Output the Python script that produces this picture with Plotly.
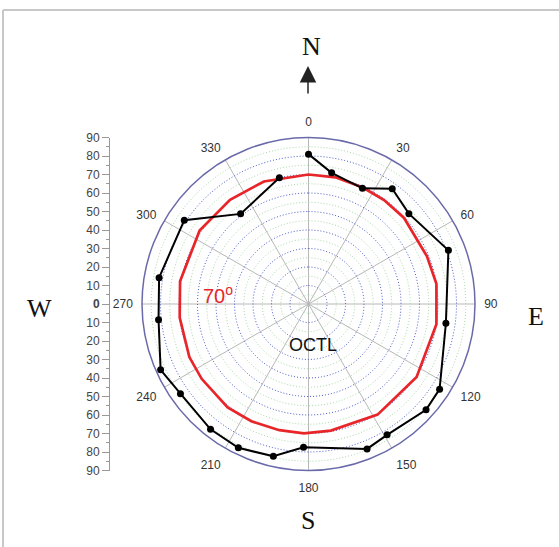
import plotly.graph_objects as go

# ---- data ----
azimuth = [0, 10, 25, 36, 48, 69, 98, 123, 132, 149, 158, 182, 193, 206, 218, 235, 246, 264, 280, 304, 323, 347]
zenith = [81, 72, 69, 77, 73, 81, 75, 84.5, 85.5, 82.5, 84.5, 77.5, 84.5, 86.5, 86, 84.5, 87.5, 81.5, 82, 81, 61, 70]

limit_theta = [0, 12, 25, 36, 48, 68, 81, 99, 124, 148, 170, 182, 193, 206, 218, 235, 246, 264, 280, 304, 323, 340, 360]
limit_r = [70, 70, 69.5, 69.5, 69.5, 69, 70, 70, 70.5, 70.5, 69.5, 70, 70, 70.5, 71, 70.5, 70.5, 70, 70.5, 71, 70.5, 70.5, 70]

blue_rings = [10, 20, 30, 40, 50, 60, 70, 80]
green_rings = [5, 15, 25, 35, 45, 55, 65, 75, 85]
ring_theta = list(range(0, 361, 2))

angle_ticks = [0, 30, 60, 90, 120, 150, 180, 210, 240, 270, 300, 330]
scale_vals = [-90, -80, -70, -60, -50, -40, -30, -20, -10, 0, 10, 20, 30, 40, 50, 60, 70, 80, 90]
scale_text = ["90", "80", "70", "60", "50", "40", "30", "20", "10", "<b>0</b>",
              "10", "20", "30", "40", "50", "60", "70", "80", "90"]

W, H = 559, 547
cx, cy, R = 308.5, 304.0, 166.5
SERIF = "Liberation Serif, Times New Roman, serif"

fig = go.Figure()

for r in green_rings:
    fig.add_trace(go.Scatterpolar(r=[r] * len(ring_theta), theta=ring_theta, mode="lines",
                                  line=dict(color="#a8d8a8", width=1, dash="1px,2px"),
                                  hoverinfo="skip", showlegend=False))
for r in blue_rings:
    fig.add_trace(go.Scatterpolar(r=[r] * len(ring_theta), theta=ring_theta, mode="lines",
                                  line=dict(color="#4a5cc8", width=1, dash="1px,2px"),
                                  hoverinfo="skip", showlegend=False))

fig.add_trace(go.Scatterpolar(r=limit_r, theta=limit_theta, mode="lines",
                              line=dict(color="#e8262a", width=2.7),
                              showlegend=False))
fig.add_trace(go.Scatterpolar(r=zenith, theta=azimuth, mode="lines+markers",
                              line=dict(color="black", width=2),
                              marker=dict(color="black", size=7),
                              showlegend=False))

# dummy trace so the cartesian scale axis is drawn
fig.add_trace(go.Scatter(x=[], y=[], xaxis="x", yaxis="y", showlegend=False, hoverinfo="skip"))


def label(text, px, py, size=26, color="#111", family=SERIF):
    return dict(text=text, x=px / W, y=1 - py / H, xref="paper", yref="paper",
                xanchor="center", yanchor="middle", showarrow=False,
                font=dict(family=family, size=size, color=color))


fig.update_layout(
    width=W, height=H, autosize=False,
    margin=dict(l=0, r=0, t=0, b=0, pad=0, autoexpand=False),
    paper_bgcolor="white", plot_bgcolor="white",
    font=dict(family="Liberation Sans, Arial, sans-serif", size=12, color="#333"),
    polar=dict(
        domain=dict(x=[(cx - R) / W, (cx + R) / W], y=[1 - (cy + R) / H, 1 - (cy - R) / H]),
        bgcolor="rgba(0,0,0,0)",
        radialaxis=dict(range=[0, 90], visible=False),
        angularaxis=dict(direction="clockwise", rotation=90,
                         tickmode="array", tickvals=angle_ticks,
                         ticktext=[str(a) for a in angle_ticks],
                         showgrid=True, gridcolor="#b8b8b8", gridwidth=1,
                         showline=True, linecolor="#6a6aaa", linewidth=1.5,
                         ticks="outside", ticklen=6, tickcolor="rgba(0,0,0,0)",
                         tickfont=dict(size=12, color="#333")),
    ),
    xaxis=dict(domain=[0.0, 0.01], visible=False, range=[0, 1]),
    yaxis=dict(domain=[1 - (cy + R) / H, 1 - (cy - R) / H], range=[-90, 90],
               anchor="free", position=109 / W, automargin=False,
               tickmode="array", tickvals=scale_vals, ticktext=scale_text,
               showline=True, linecolor="#999", linewidth=1,
               ticks="outside", ticklen=7, tickcolor="#999",
               minor=dict(dtick=5, ticks="outside", ticklen=3, tickcolor="#999"),
               showgrid=False, zeroline=False,
               tickfont=dict(size=12, color="#444")),
    shapes=[
        dict(type="line", xref="paper", yref="paper", x0=3 / W, x1=1, y0=1 - 10 / H, y1=1 - 10 / H,
             line=dict(color="#c8c8c8", width=2)),
        dict(type="line", xref="paper", yref="paper", x0=3 / W, x1=3 / W, y0=0, y1=1 - 10 / H,
             line=dict(color="#c8c8c8", width=2)),
    ],
    annotations=[
        label("N", 311, 46),
        label("S", 308, 520),
        label("W", 39, 308),
        label("E", 536, 316),
        dict(text="", x=308 / W, y=1 - 66 / H, xref="paper", yref="paper",
             ax=0, ay=29, showarrow=True, arrowhead=2, arrowsize=2.2, arrowwidth=1.5,
             standoff=0, arrowcolor="#222"),
        label("OCTL", 313, 345, size=18, family="Liberation Sans, Arial, sans-serif"),
        label("70<sup>o</sup>", 218, 294, size=20, color="#e8262a",
              family="Liberation Sans, Arial, sans-serif"),
    ],
)

fig.write_html("out.html", config={"displayModeBar": False},
               post_script="document.body.style.margin='0';")
